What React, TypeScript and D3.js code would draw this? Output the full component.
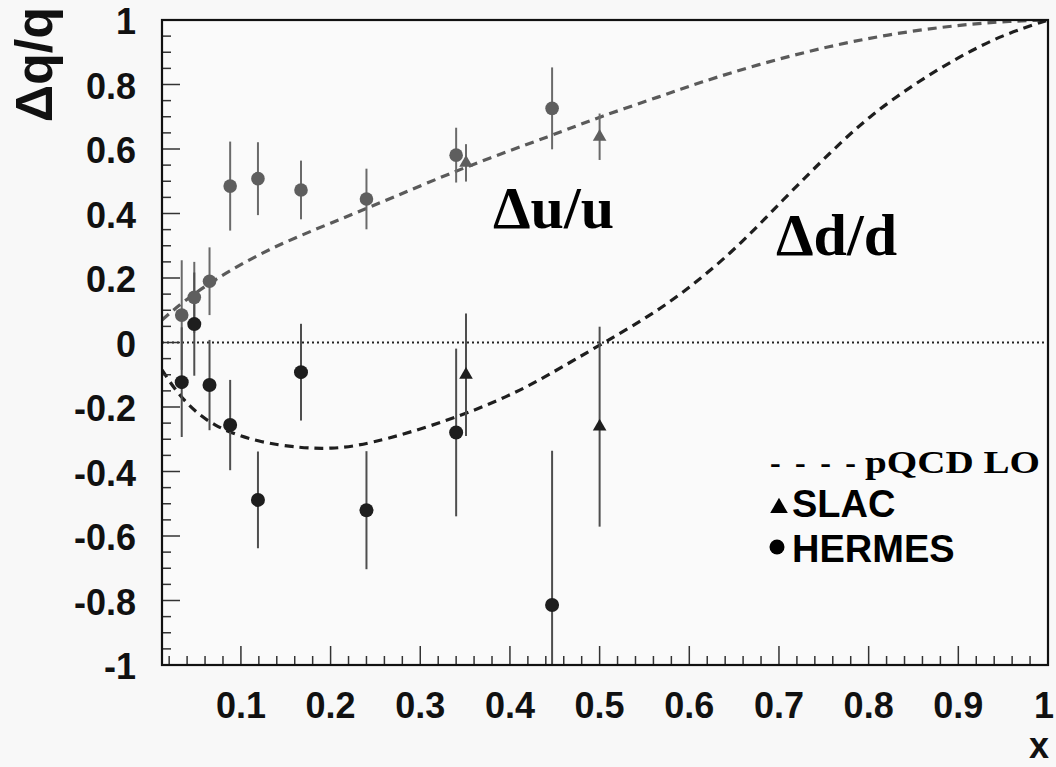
import React from "react";
import * as d3 from "d3";

// ---- data ----
const uHermesX = [0.034, 0.048, 0.065, 0.088, 0.119, 0.167, 0.24, 0.34, 0.447];
const uHermesY = [0.085, 0.14, 0.19, 0.485, 0.508, 0.473, 0.445, 0.581, 0.726];
const uHermesErr = [0.17, 0.11, 0.105, 0.138, 0.113, 0.091, 0.094, 0.085, 0.127];

const uSlacX = [0.351, 0.5];
const uSlacY = [0.557, 0.638];
const uSlacErr = [0.058, 0.072];

const dHermesX = [0.034, 0.048, 0.065, 0.088, 0.119, 0.167, 0.24, 0.34, 0.447];
const dHermesY = [-0.123, 0.057, -0.132, -0.256, -0.488, -0.092, -0.52, -0.279, -0.814];
const dHermesErr = [0.17, 0.16, 0.14, 0.14, 0.15, 0.15, 0.183, 0.26, 0.478];

const dSlacX = [0.351, 0.5];
const dSlacY = [-0.1, -0.261];
const dSlacErr = [0.19, 0.31];

// pQCD LO curves
const uCurveX = [0.012, 0.035, 0.07, 0.13, 0.2, 0.27, 0.35, 0.45, 0.5, 0.57, 0.61, 0.68, 0.75, 0.82, 0.9, 0.96, 1.0];
const uCurveY = [0.07, 0.125, 0.195, 0.29, 0.37, 0.45, 0.545, 0.645, 0.7, 0.765, 0.805, 0.865, 0.915, 0.955, 0.985, 0.997, 1.0];
const dCurveX = [0.012, 0.034, 0.069, 0.12, 0.167, 0.2, 0.24, 0.33, 0.4, 0.44, 0.505, 0.574, 0.648, 0.704, 0.76, 0.8, 0.85, 0.9, 0.95, 1.0];
const dCurveY = [-0.085, -0.178, -0.262, -0.31, -0.327, -0.33, -0.318, -0.245, -0.165, -0.106, 0.0, 0.111, 0.277, 0.442, 0.597, 0.7, 0.8, 0.885, 0.955, 1.0];

const xTicks = [0.1, 0.2, 0.3, 0.4, 0.5, 0.6, 0.7, 0.8, 0.9, 1];
const yTicks = [-1, -0.8, -0.6, -0.4, -0.2, 0, 0.2, 0.4, 0.6, 0.8, 1];

const W = 1056;
const H = 767;
const L = 162, R = 1048, T = 20, B = 665;

export default function App() {
  const x = d3.scaleLinear().domain([0.012, 1]).range([L, R]);
  const y = d3.scaleLinear().domain([-1, 1]).range([B, T]);

  const line = d3
    .line<[number, number]>()
    .x((d) => x(d[0]))
    .y((d) => y(d[1]))
    .curve(d3.curveBasis);

  const uPath = line(uCurveX.map((v, i) => [v, uCurveY[i]] as [number, number])) || "";
  const dPath = line(dCurveX.map((v, i) => [v, dCurveY[i]] as [number, number])) || "";

  const tri = d3.symbol().type(d3.symbolTriangle).size(80)() || "";
  const triLeg = d3.symbol().type(d3.symbolTriangle).size(135)() || "";

  const minorX = d3.range(0.02, 1.0001, 0.02).filter((v) => v >= 0.012);
  const minorY = d3.range(-1, 1.0001, 0.05);

  const tickFont = "'Liberation Sans', Arial, Helvetica, sans-serif";
  const serif = "'Liberation Serif', 'Times New Roman', serif";

  const uColor = "#5e5e5e";
  const dColor = "#1e1e1e";
  const uBar = "#6a6a6a";
  const dBar = "#4e4e4e";

  const errBars = (xs: number[], ys: number[], es: number[], color: string, key: string) =>
    xs.map((xv, i) => (
      <line
        key={key + i}
        x1={x(xv)}
        x2={x(xv)}
        y1={y(ys[i] + es[i])}
        y2={y(ys[i] - es[i])}
        stroke={color}
        strokeWidth={2}
      />
    ));

  return (
    <svg
      width={W}
      height={H}
      style={{ position: "absolute", left: 0, top: 0 }}
      xmlns="http://www.w3.org/2000/svg"
    >
      <defs>
        <clipPath id="plotclip">
          <rect x={L} y={T} width={R - L} height={B - T} />
        </clipPath>
      </defs>
      <rect x={0} y={0} width={W} height={H} fill="#f8f8f8" />
      <rect x={L} y={T} width={R - L} height={B - T} fill="#fafafa" />

      {/* zero line */}
      <line x1={L} x2={R} y1={y(0)} y2={y(0)} stroke="#222" strokeWidth={2} strokeDasharray="2,3" />

      <g clipPath="url(#plotclip)">
        {/* curves */}
        <path d={uPath} fill="none" stroke="#5a5a5a" strokeWidth={3.2} strokeDasharray="9,6" />
        <path d={dPath} fill="none" stroke="#1e1e1e" strokeWidth={3.2} strokeDasharray="9,6" />

        {/* error bars */}
        {errBars(uHermesX, uHermesY, uHermesErr, uBar, "uhe")}
        {errBars(uSlacX, uSlacY, uSlacErr, uBar, "use")}
        {errBars(dHermesX, dHermesY, dHermesErr, dBar, "dhe")}
        {errBars(dSlacX, dSlacY, dSlacErr, dBar, "dse")}

        {/* markers */}
        {uHermesX.map((xv, i) => (
          <circle key={"uh" + i} cx={x(xv)} cy={y(uHermesY[i])} r={6.8} fill={uColor} />
        ))}
        {uSlacX.map((xv, i) => (
          <path key={"us" + i} d={tri} transform={`translate(${x(xv)},${y(uSlacY[i])})`} fill={uColor} />
        ))}
        {dHermesX.map((xv, i) => (
          <circle key={"dh" + i} cx={x(xv)} cy={y(dHermesY[i])} r={7} fill={dColor} />
        ))}
        {dSlacX.map((xv, i) => (
          <path key={"ds" + i} d={tri} transform={`translate(${x(xv)},${y(dSlacY[i])})`} fill={dColor} />
        ))}
      </g>

      {/* ticks */}
      {minorY.map((v, i) => {
        const major = Math.abs(Math.round(v * 5) - v * 5) < 1e-6;
        return (
          <line key={"ym" + i} x1={L} x2={L + (major ? 18 : 9)} y1={y(v)} y2={y(v)} stroke="#333" strokeWidth={1.5} />
        );
      })}
      {minorX.map((v, i) => {
        const major = Math.abs(Math.round(v * 10) - v * 10) < 1e-6;
        return (
          <line key={"xm" + i} x1={x(v)} x2={x(v)} y1={B} y2={B - (major ? 19 : 9)} stroke="#333" strokeWidth={1.5} />
        );
      })}

      {/* frame */}
      <rect x={L} y={T} width={R - L} height={B - T} fill="none" stroke="#111" strokeWidth={2.2} />

      {/* tick labels */}
      {yTicks.map((v) => (
        <text
          key={"yl" + v}
          x={136}
          y={y(v) + 14}
          textAnchor="end"
          fontFamily={tickFont}
          fontWeight="bold"
          fontSize={36}
          fill="#111"
        >
          {String(v)}
        </text>
      ))}
      {xTicks.map((v) => (
        <text
          key={"xl" + v}
          x={v === 1 ? x(v) - 4 : x(v)}
          y={718}
          textAnchor="middle"
          fontFamily={tickFont}
          fontWeight="bold"
          fontSize={36}
          fill="#111"
        >
          {String(v)}
        </text>
      ))}

      {/* axis titles */}
      <text
        transform="translate(52,7) rotate(-90)"
        textAnchor="end"
        fontFamily={tickFont}
        fontWeight="bold"
        fontSize={52}
        fill="#111"
      >
        Δq/q
      </text>
      <text x={1049} y={758} textAnchor="end" fontFamily={tickFont} fontWeight="bold" fontSize={36} fill="#111">
        x
      </text>

      {/* curve labels */}
      <text x={493} y={228} fontFamily={serif} fontWeight="bold" fontSize={60} fill="#000">
        Δu/u
      </text>
      <text x={776} y={255} fontFamily={serif} fontWeight="bold" fontSize={60} fill="#000">
        Δd/d
      </text>

      {/* legend */}
      <text
        x={770}
        y={473}
        fontFamily={serif}
        fontWeight="bold"
        fontSize={32}
        fill="#000"
        textLength={86}
        lengthAdjust="spacing"
      >
        - - - -
      </text>
      <text
        x={865}
        y={473}
        fontFamily={serif}
        fontWeight="bold"
        fontSize={32}
        fill="#000"
        textLength={175}
        lengthAdjust="spacingAndGlyphs"
      >
        pQCD LO
      </text>
      <path d={triLeg} transform="translate(779,508)" fill="#000" />
      <text x={792} y={517} fontFamily={tickFont} fontWeight="bold" fontSize={38} fill="#000">
        SLAC
      </text>
      <circle cx={777} cy={547} r={7.5} fill="#000" />
      <text x={792} y={562} fontFamily={tickFont} fontWeight="bold" fontSize={38} fill="#000">
        HERMES
      </text>
    </svg>
  );
}
